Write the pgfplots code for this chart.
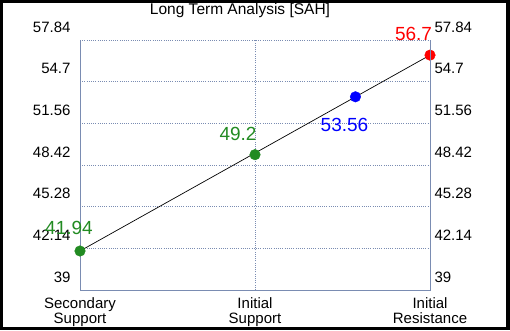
\documentclass[border=0pt]{standalone}
\usepackage{pgfplots}
\pgfplotsset{compat=1.18}
\usepackage{fontspec}
\setmainfont{Liberation Sans}
\definecolor{axc}{RGB}{122,140,178}
\definecolor{fgreen}{RGB}{34,139,34}
\begin{document}
\begin{tikzpicture}[x=1bp,y=1bp]
\useasboundingbox (0,0) rectangle (510,330);
\fill[black] (0,0) rectangle (510,330);
\fill[white] (3,3) rectangle (506,327);
\node at (240,319.5) {\fontsize{15.5bp}{16bp}\selectfont Long Term Analysis [SAH]};
\begin{axis}[at={(80bp,40bp)}, anchor=south west, scale only axis,
  width=350bp, height=250bp,
  xmin=0, xmax=2, ymin=39, ymax=57.84,
  xtick={0,1,2},
  xticklabels={Secondary\\Support, Initial\\Support, Initial\\Resistance},
  ytick={39,42.14,45.28,48.42,51.56,54.7,57.84},
  yticklabels={39,42.14,45.28,48.42,51.56,54.7,57.84},
  grid=major, grid style={dash pattern=on 1bp off 1.2bp, axc, line width=0.8bp},
  axis x line*=bottom, axis y line*=left,
  axis line style={axc, line width=0.8bp},
  major tick length=0pt,
  tick label style={font=\fontsize{15bp}{14.5bp}\selectfont},
  xticklabel style={align=center, yshift=-4.5bp},
  yticklabel style={yshift=13bp, xshift=-6bp},
  clip=false,
]
\addplot[black, line width=0.7bp] coordinates {(0,41.94) (2,56.7)};
\addplot[only marks, mark=*, mark size=5.3bp, color=fgreen, point meta=explicit symbolic,
  nodes near coords, every node near coord/.style={anchor=center, xshift=-11bp, yshift=23bp,
  font=\fontsize{19bp}{19bp}\selectfont, text=fgreen}]
  coordinates {(0,41.94) [41.94]};
\addplot[only marks, mark=*, mark size=5.3bp, color=fgreen, point meta=explicit symbolic,
  nodes near coords, every node near coord/.style={anchor=center, xshift=-17bp, yshift=21bp,
  font=\fontsize{19bp}{19bp}\selectfont, text=fgreen}]
  coordinates {(1,49.2) [49.2]};
\addplot[only marks, mark=*, mark size=5.3bp, color=blue, point meta=explicit symbolic,
  nodes near coords, every node near coord/.style={anchor=center, xshift=-11bp, yshift=-28bp,
  font=\fontsize{19bp}{19bp}\selectfont, text=blue}]
  coordinates {(1.574,53.56) [53.56]};
\addplot[only marks, mark=*, mark size=5.3bp, color=red, point meta=explicit symbolic,
  nodes near coords, every node near coord/.style={anchor=center, xshift=-16.5bp, yshift=21bp,
  font=\fontsize{19bp}{19bp}\selectfont, text=red}]
  coordinates {(2,56.7) [56.7]};
\end{axis}
\begin{axis}[at={(80bp,40bp)}, anchor=south west, scale only axis,
  width=350bp, height=250bp,
  xmin=0, xmax=2, ymin=39, ymax=57.84,
  axis x line=none, axis y line*=right,
  axis line style={axc, line width=0.8bp},
  ytick={39,42.14,45.28,48.42,51.56,54.7,57.84},
  yticklabels={39,42.14,45.28,48.42,51.56,54.7,57.84},
  major tick length=0pt,
  tick label style={font=\fontsize{15bp}{14.5bp}\selectfont},
  yticklabel style={yshift=13bp, xshift=1bp},
]
\end{axis}
\end{tikzpicture}
\end{document}
